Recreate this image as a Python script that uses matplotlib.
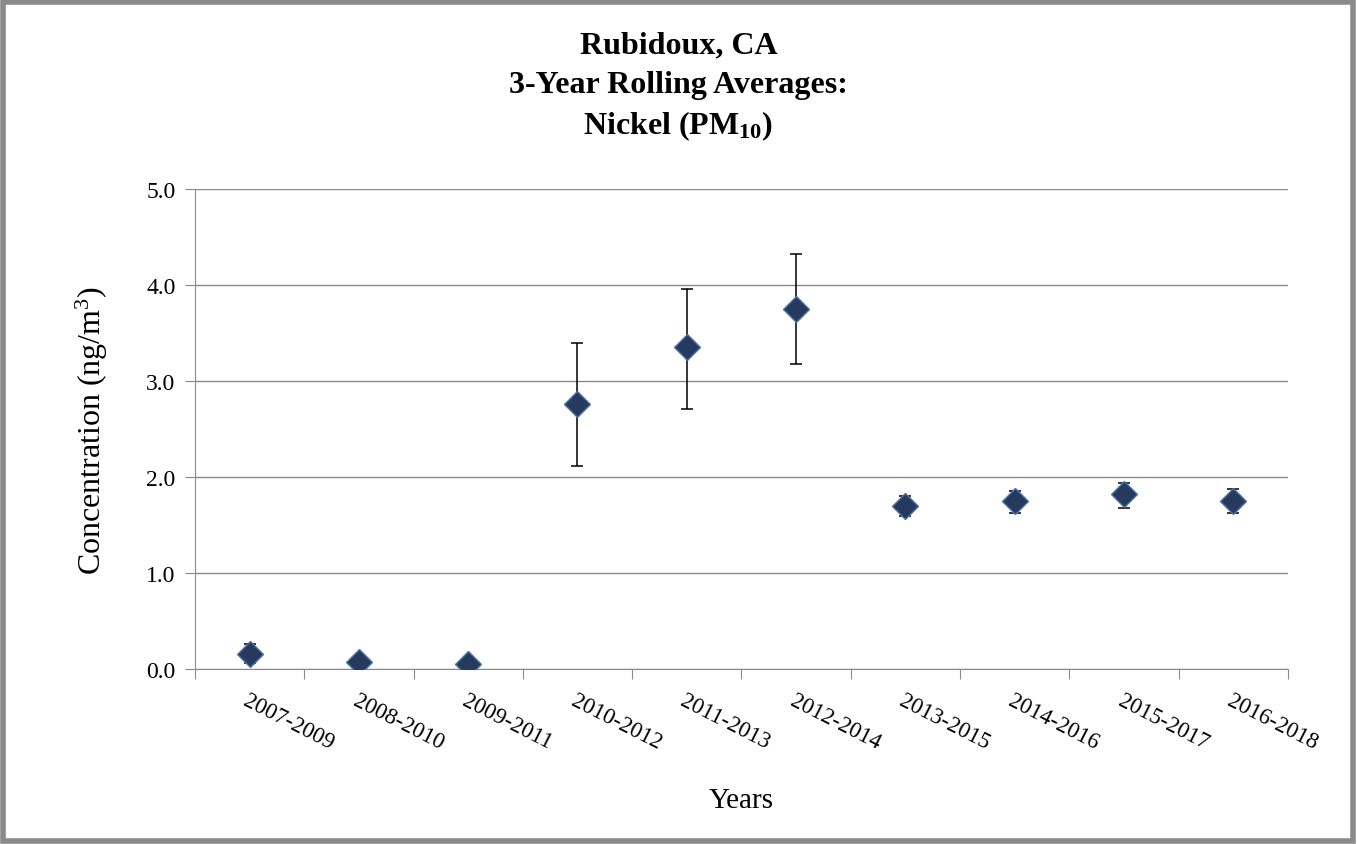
import numpy as np
import matplotlib.pyplot as plt
from matplotlib.patches import Rectangle

plt.rcParams['font.family'] = 'Liberation Serif'
plt.rcParams['mathtext.fontset'] = 'custom'
plt.rcParams['mathtext.rm'] = 'Liberation Serif'
plt.rcParams['mathtext.it'] = 'Liberation Serif:italic'
plt.rcParams['mathtext.bf'] = 'Liberation Serif:bold'

periods = ['2007-2009', '2008-2010', '2009-2011', '2010-2012', '2011-2013',
           '2012-2014', '2013-2015', '2014-2016', '2015-2017', '2016-2018']
means = [0.16, 0.07, 0.05, 2.76, 3.35, 3.75, 1.70, 1.75, 1.82, 1.75]
upper = [0.26, 0.07, 0.05, 3.40, 3.96, 4.32, 1.80, 1.85, 1.94, 1.87]
lower = [0.06, 0.07, 0.05, 2.11, 2.71, 3.18, 1.59, 1.63, 1.68, 1.63]

means = np.array(means)
err = [means - np.array(lower), np.array(upper) - means]
x = np.arange(len(periods))

fig = plt.figure(figsize=(13.57, 8.45), dpi=100)
ax = fig.add_axes([0.1437, 0.2071, 0.8053, 0.5680])

grey = '#8a8a8a'
ax.errorbar(x, means, yerr=err, fmt='none', ecolor='black', elinewidth=1.1,
            capsize=4.3, capthick=1.1, zorder=3)
ax.plot(x, means, 'D', ms=13, mfc='#253a5c', mec='#4f73a8', mew=1.0,
        ls='none', zorder=4)

ax.set_ylim(0, 5)
ax.set_yticks(np.arange(0, 5.01, 1.0))
ax.set_yticklabels([f'{v:.1f}' for v in np.arange(0, 5.01, 1.0)], fontsize=17)
ax.yaxis.grid(True, color=grey, lw=1.0)
ax.set_axisbelow(True)

ax.set_xlim(-0.5, len(periods) - 0.5)
ax.set_xticks(np.arange(-0.5, len(periods)), labels=[''] * (len(periods) + 1))
ax.set_xticks(x, minor=True)
ax.set_xticklabels(periods, minor=True, rotation=-27, ha='left', va='top',
                   rotation_mode='anchor', fontsize=16.5)
ax.tick_params(axis='x', which='minor', length=0, pad=15)
ax.tick_params(axis='x', which='major', length=7, color=grey, direction='out')
ax.tick_params(axis='y', length=7, color=grey, direction='out', pad=7)

for s in ['top', 'right']:
    ax.spines[s].set_visible(False)
for s in ['left', 'bottom']:
    ax.spines[s].set_color(grey)

ax.set_ylabel('Concentration (ng/m$^3$)', fontsize=23, labelpad=26)
ax.set_xlabel('Years', fontsize=21, labelpad=24)

fig.text(0.5, 0.946, 'Rubidoux, CA', ha='center', va='center',
         fontsize=23, fontweight='bold')
fig.text(0.5, 0.899, '3-Year Rolling Averages:', ha='center', va='center',
         fontsize=23, fontweight='bold')
fig.text(0.5, 0.851, r'Nickel (PM$_{\mathbf{10}}$)', ha='center', va='center',
         fontsize=23, fontweight='bold')

fig.patches.append(Rectangle((0.002, 0.003), 0.995, 0.994, transform=fig.transFigure,
                             fill=False, edgecolor=grey, lw=4))

fig.savefig('out.png', dpi=100)
